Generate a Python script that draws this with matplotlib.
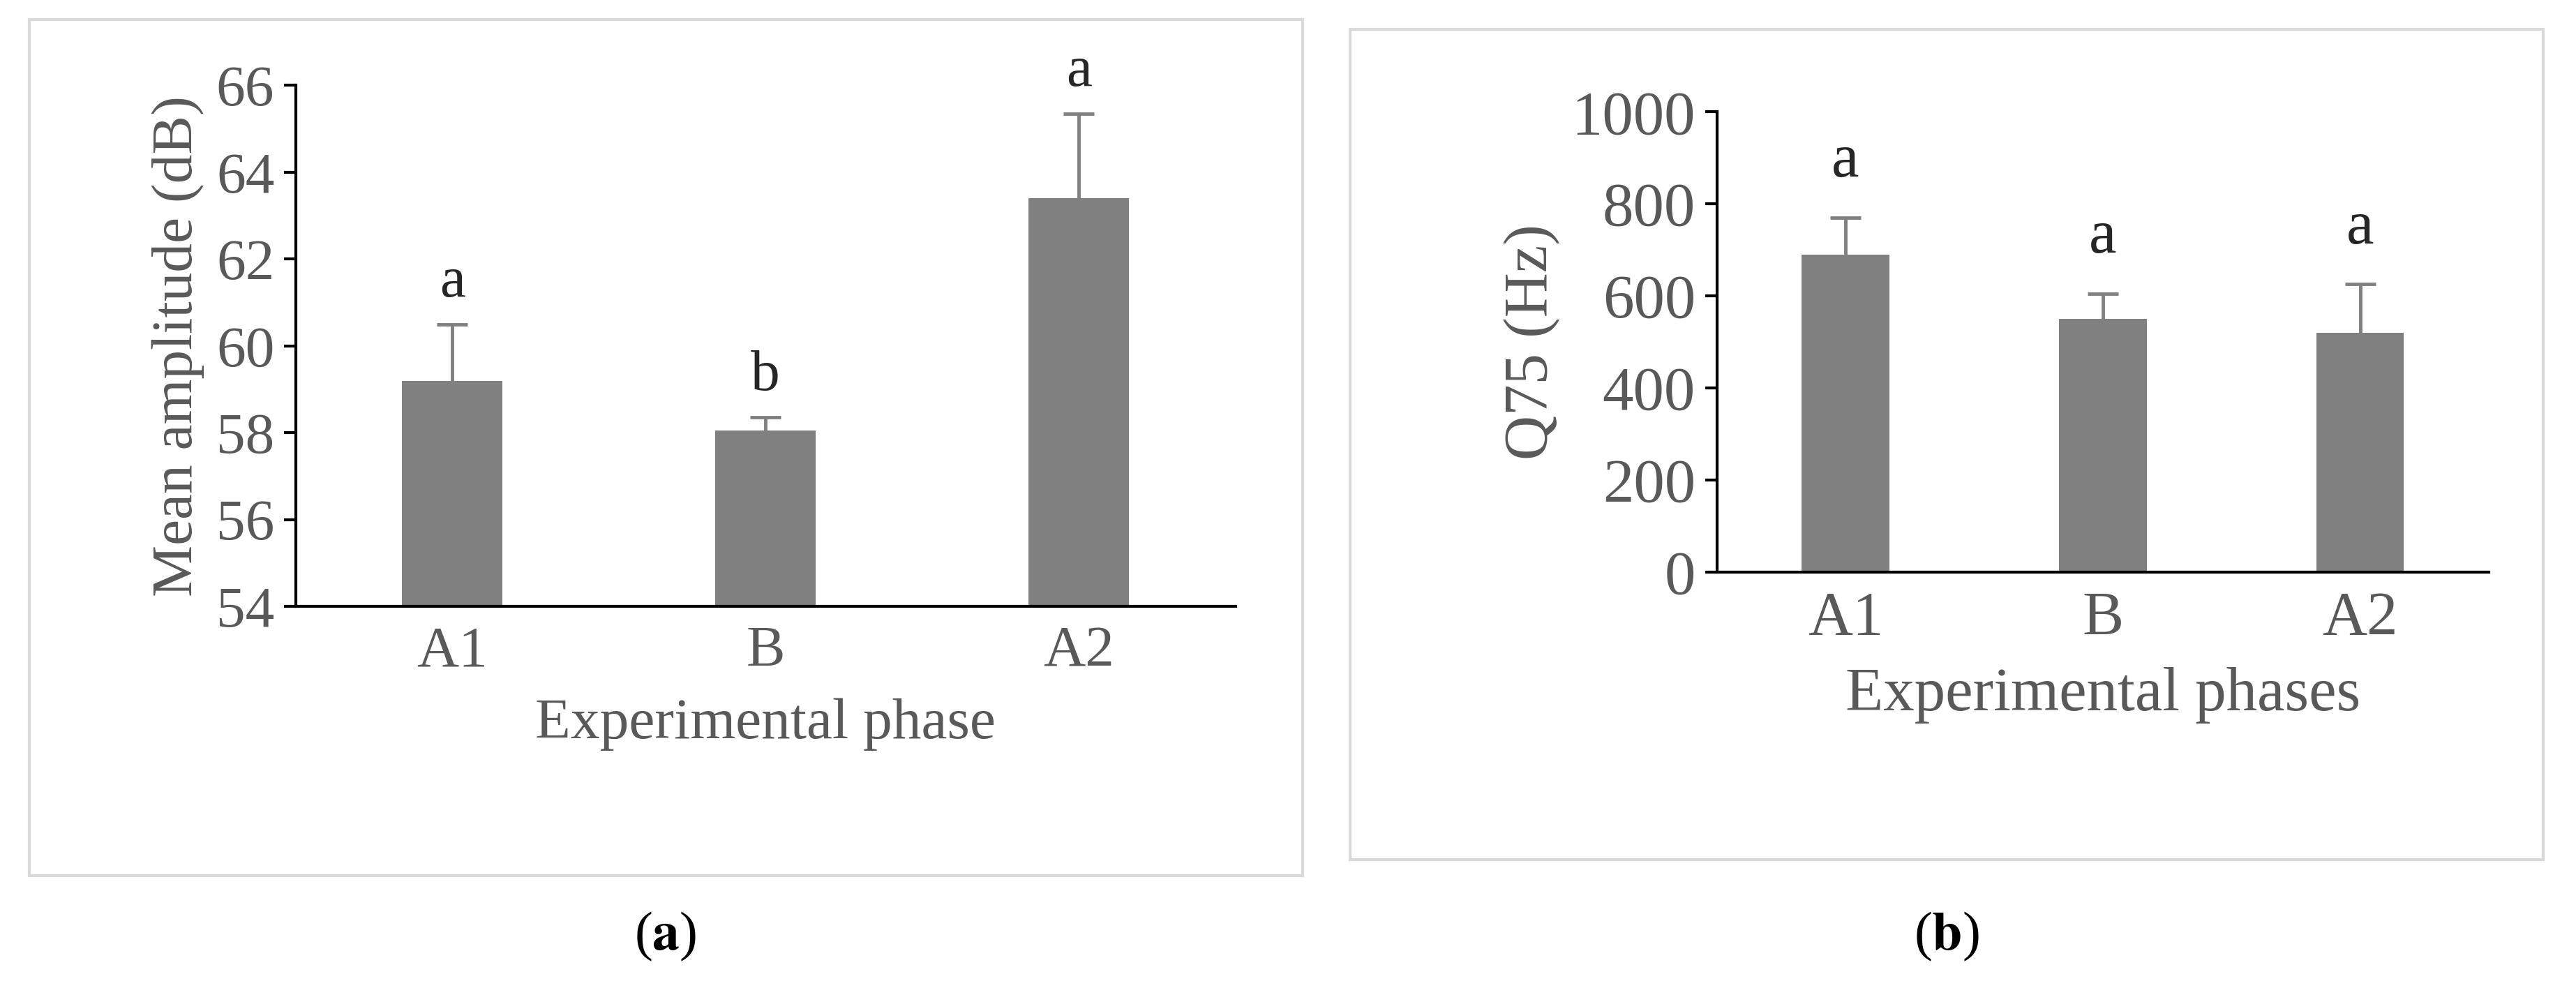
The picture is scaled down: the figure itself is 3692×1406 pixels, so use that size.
import matplotlib.pyplot as plt
from matplotlib.patches import Rectangle

plt.rcParams['font.family'] = ['Liberation Serif', 'DejaVu Serif']
plt.rcParams['mathtext.fontset'] = 'stix'

phases = ["A1", "B", "A2"]
amp_mean = [59.2, 58.05, 63.4]
amp_err = [1.3, 0.3, 1.95]
amp_letters = ["a", "b", "a"]
q75_mean = [690, 550, 520]
q75_err = [80, 55, 105]
q75_letters = ["a", "a", "a"]

W, H = 1568, 597
TXT = "#595959"
BAR = "#808080"

fig = plt.figure(figsize=(36.92, 14.06), dpi=100)


def frac(x0, y0, x1, y1):
    return [x0 / W, 1 - y1 / H, (x1 - x0) / W, (y1 - y0) / H]


# panel frames
for x0, y0, x1, y1 in [(18, 12, 793, 533), (822, 18, 1548, 523)]:
    fig.patches.append(Rectangle((x0 / W, 1 - y1 / H), (x1 - x0) / W, (y1 - y0) / H,
                                 transform=fig.transFigure, fill=False,
                                 edgecolor="#d9d9d9", lw=3))


def panel(rect, means, errs, letters, ylim, step, ylabel, xlabel, width, fs, lpad):
    ax = fig.add_axes(rect)
    x = list(range(len(phases)))
    ax.bar(x, means, width=width, color=BAR, zorder=2)
    tops = [m + e for m, e in zip(means, errs)]
    ax.vlines(x, means, tops, color=BAR, lw=3.5, zorder=3)
    ax.plot(x, tops, ls="none", marker="_", ms=32, mew=3.5, color=BAR, zorder=3)
    for i, (t, l) in enumerate(zip(tops, letters)):
        ax.text(i, t + lpad, l, ha="center", va="bottom", fontsize=fs, color="#262626")
    ax.set_xlim(-0.5, 2.5)
    ax.set_ylim(*ylim)
    ax.set_yticks(range(ylim[0], ylim[1] + 1, step))
    ax.set_xticks(x)
    ax.set_xticklabels(phases)
    for s in ["top", "right"]:
        ax.spines[s].set_visible(False)
    for s in ["left", "bottom"]:
        ax.spines[s].set_linewidth(3)
        ax.spines[s].set_color("black")
    ax.tick_params(axis="y", length=12, width=3, labelsize=fs, labelcolor=TXT, pad=10)
    ax.tick_params(axis="x", length=0, labelsize=fs, labelcolor=TXT, pad=20)
    ax.set_ylabel(ylabel, fontsize=fs, color=TXT, labelpad=12)
    ax.set_xlabel(xlabel, fontsize=fs, color=TXT, labelpad=20)
    return ax


panel(frac(180, 52, 752, 369), amp_mean, amp_err, amp_letters, (54, 66), 2,
      "Mean amplitude (dB)", "Experimental phase", 0.32, 60, 0.35)
panel(frac(1045, 68, 1515, 348), q75_mean, q75_err, q75_letters, (0, 1000), 200,
      "Q75 (Hz)", "Experimental phases", 0.34, 64, 60)

fig.text(405 / W, 1 - 570 / H, r"($\mathbf{a}$)", ha="center", va="center", fontsize=56)
fig.text(1185 / W, 1 - 570 / H, r"($\mathbf{b}$)", ha="center", va="center", fontsize=56)

fig.savefig("out.png", dpi=100, facecolor="white")
